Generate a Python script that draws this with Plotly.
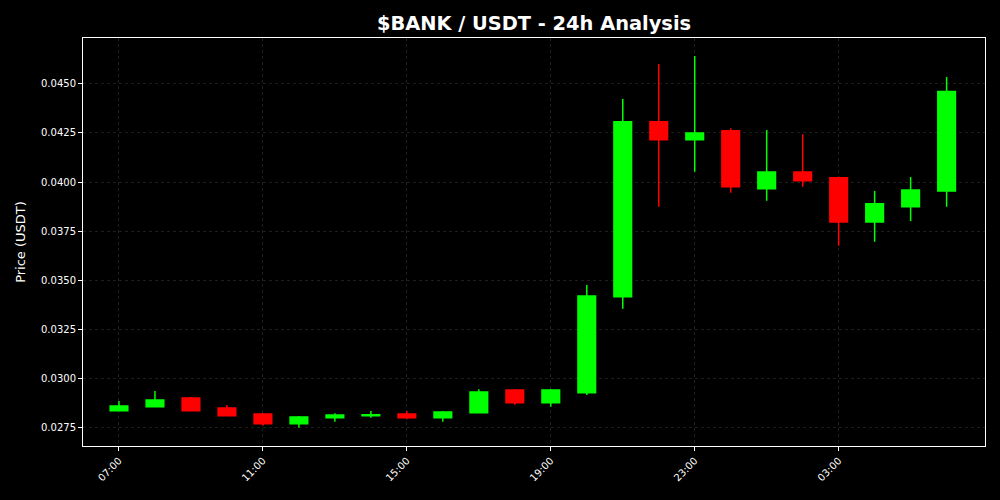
import plotly.graph_objects as go

times = ["2025-01-01 %02d:00" % h for h in range(7, 24)] + ["2025-01-02 %02d:00" % h for h in range(0, 7)]
opens = [0.028348, 0.028553, 0.028995, 0.028486, 0.028180, 0.027685, 0.027992, 0.028093,
         0.028180, 0.027992, 0.028246, 0.029403, 0.028756, 0.029265, 0.034159, 0.043078,
         0.042161, 0.042620, 0.039663, 0.040515, 0.040224, 0.037966, 0.038746, 0.039546]
highs = [0.028843, 0.029352, 0.029050, 0.028638, 0.028230, 0.028078, 0.028216, 0.028333,
         0.028317, 0.028333, 0.029438, 0.029454, 0.029454, 0.034755, 0.044235, 0.046019,
         0.046427, 0.042742, 0.042655, 0.042436, 0.040275, 0.039546, 0.040260, 0.045357]
lows = [0.028340, 0.028550, 0.028340, 0.028090, 0.027583, 0.027481, 0.027787, 0.027992,
        0.027910, 0.027787, 0.028240, 0.028654, 0.028553, 0.029148, 0.033547, 0.038746,
        0.040530, 0.039460, 0.039052, 0.039765, 0.036758, 0.036962, 0.038017, 0.038746]
closes = [0.028588, 0.028893, 0.028348, 0.028093, 0.027685, 0.028027, 0.028129, 0.028144,
          0.027992, 0.028282, 0.029301, 0.028756, 0.029403, 0.034194, 0.043078, 0.042161,
          0.042502, 0.039765, 0.040515, 0.040071, 0.037966, 0.038899, 0.039597, 0.044608]

tick_vals = ["2025-01-01 07:00", "2025-01-01 11:00", "2025-01-01 15:00",
             "2025-01-01 19:00", "2025-01-01 23:00", "2025-01-02 03:00"]
tick_text = ["07:00", "11:00", "15:00", "19:00", "23:00", "03:00"]
y_ticks = [0.0275, 0.0300, 0.0325, 0.0350, 0.0375, 0.0400, 0.0425, 0.0450]

GREEN = "#00ff00"
RED = "#ff0000"

fig = go.Figure(go.Candlestick(
    x=times, open=opens, high=highs, low=lows, close=closes,
    increasing=dict(fillcolor=GREEN, line=dict(color=GREEN, width=1.5)),
    decreasing=dict(fillcolor=RED, line=dict(color=RED, width=1.5)),
    whiskerwidth=0,
    showlegend=False,
))

fig.update_layout(
    width=1000, height=500,
    paper_bgcolor="black", plot_bgcolor="black",
    margin=dict(l=83, r=15, t=38, b=54),
    title=dict(text="<b>$BANK / USDT - 24h Analysis</b>", x=0.534, xanchor="center",
               y=0.954, yanchor="middle",
               font=dict(family="DejaVu Sans", size=19.4, color="white")),
    font=dict(family="DejaVu Sans", color="white"),
    boxgap=0.3,
    xaxis=dict(
        type="date", rangeslider=dict(visible=False),
        range=["2025-01-01 06:00", "2025-01-02 07:04"],
        tickmode="array", tickvals=tick_vals, ticktext=tick_text,
        tickangle=-45, tickfont=dict(size=10, color="white"),
        ticks="outside", ticklen=4, tickcolor="white",
        showline=True, linecolor="white", linewidth=1, mirror=True,
        showgrid=True, gridcolor="#1e1e1e", griddash="dot", gridwidth=1,
        zeroline=False,
    ),
    yaxis=dict(
        range=[0.02655, 0.04734],
        tickmode="array", tickvals=y_ticks, tickformat=".4f",
        tickfont=dict(size=10, color="white"),
        ticks="outside", ticklen=4, tickcolor="white",
        showline=True, linecolor="white", linewidth=1, mirror=True,
        showgrid=True, gridcolor="#1e1e1e", griddash="dot", gridwidth=1,
        zeroline=False,
        title=dict(text="Price (USDT)", font=dict(size=13, color="white"), standoff=12),
    ),
)

fig.write_html(
    "out.html",
    config={"displayModeBar": False},
    post_script="document.body.style.margin='0';document.body.style.background='black';",
)
